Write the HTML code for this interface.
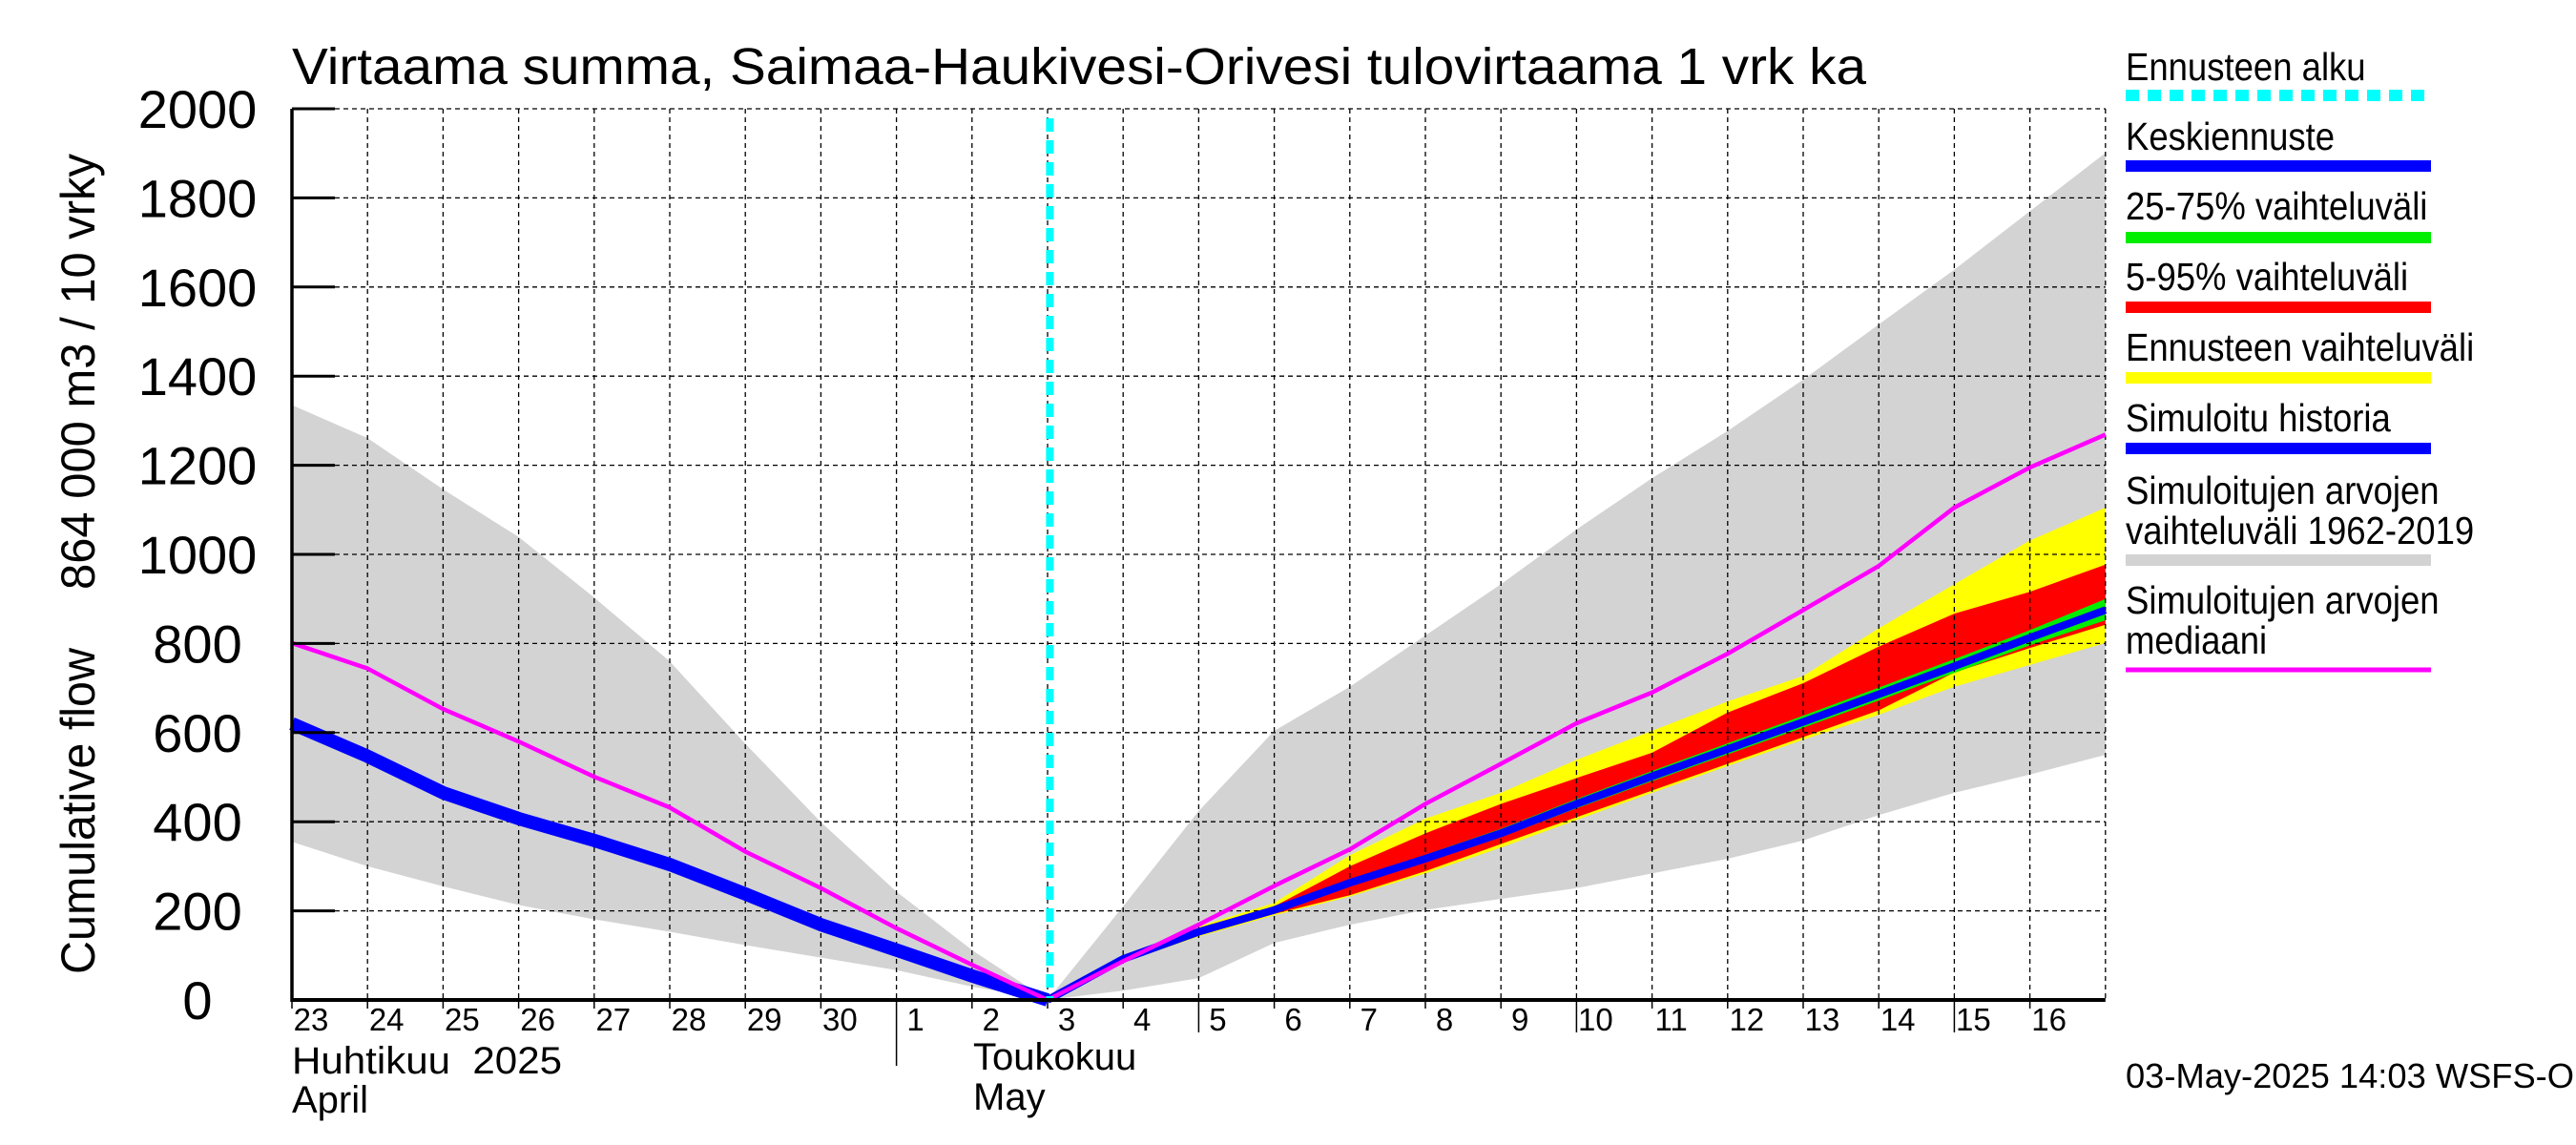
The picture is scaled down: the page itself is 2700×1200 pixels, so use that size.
<!DOCTYPE html>
<html><head><meta charset="utf-8">
<style>
html,body{margin:0;padding:0;background:#fff;}
svg{display:block;font-family:"Liberation Sans",sans-serif;}
</style></head>
<body>
<svg id="chart" xmlns="http://www.w3.org/2000/svg" width="2700" height="1200" viewBox="0 0 2700 1200">
<rect x="0" y="0" width="2700" height="1200" fill="#fff"/>
<g id="bands"></g>
<g id="grid"></g>
<g id="lines"></g>
<g id="axes"></g>
<text x="306" y="88" font-size="54" textLength="1650" lengthAdjust="spacingAndGlyphs">Virtaama summa, Saimaa-Haukivesi-Orivesi tulovirtaama 1 vrk ka</text>
<text transform="translate(99,1021) rotate(-90)" font-size="50" textLength="342" lengthAdjust="spacingAndGlyphs">Cumulative flow</text>
<text transform="translate(99,618) rotate(-90)" font-size="50" textLength="457" lengthAdjust="spacingAndGlyphs">864 000 m3 / 10 vrky</text>
<text x="306" y="1125" font-size="40" textLength="283" lengthAdjust="spacingAndGlyphs" xml:space="preserve">Huhtikuu  2025</text>
<text x="306" y="1166" font-size="40">April</text>
<text x="1020" y="1121" font-size="40">Toukokuu</text>
<text x="1020" y="1163" font-size="40">May</text>
<text x="2228" y="1140" font-size="36" textLength="470" lengthAdjust="spacingAndGlyphs">03-May-2025 14:03 WSFS-O</text>
<g id="legend"></g>
</svg>
<script>
// ---- data (day index 0 = 23 April) ----
const dayLabels = ["23","24","25","26","27","28","29","30","1","2","3","4","5","6","7","8","9","10","11","12","13","14","15","16"];
const yTicks = [0,200,400,600,800,1000,1200,1400,1600,1800,2000];
const histMax = [1335,1261,1146,1039,903,760,575,399,243,112,0,210,424,604,703,818,933,1056,1171,1277,1392,1516,1639,1770,1901];
const histMin = [355,300,255,213,181,153,123,95,67,30,0,21,49,128,169,202,227,251,284,317,358,415,465,506,550];
const histMedian = [801,744,653,580,501,432,333,251,161,79,0,87,169,256,338,440,530,621,690,777,875,974,1105,1195,1269];
const simHistory = [620,547,465,407,358,304,238,169,112,54,0];
const fcDays = [10,11,12,13,14,15,16,17,18,19,20,21,22,23,24];
const fcMedian = [0,92,153,202,263,317,374,440,502,563,624,686,749,813,875];
const fc25 = [0,88,148,197,256,309,365,430,491,551,611,672,734,796,852];
const fc75 = [0,96,158,208,270,326,384,451,514,576,638,701,765,830,900];
const fc5 = [0,86,145,193,235,289,350,410,470,530,590,650,735,790,842];
const fc95 = [0,95,160,210,300,374,440,498,555,645,711,793,867,916,977];
const fcMin = [0,84,142,190,232,284,342,404,465,525,584,640,703,752,801];
const fcMax = [0,98,165,218,325,407,465,539,604,670,727,834,933,1031,1105];
const forecastStartDay = 10.03;

const NS="http://www.w3.org/2000/svg";
const X0=306, DX=79.2, Y0=1048, YTOP=114;
function xs(d){return X0+d*DX;}
function ys(v){return Y0-(v/2000)*(Y0-YTOP);}
function el(tag,attrs,parent){const e=document.createElementNS(NS,tag);for(const k in attrs)e.setAttribute(k,attrs[k]);parent.appendChild(e);return e;}
const bands=document.getElementById('bands'),grid=document.getElementById('grid'),lines=document.getElementById('lines'),axes=document.getElementById('axes'),legend=document.getElementById('legend');

function bandPath(days,lo,hi){
  let p='';
  days.forEach((d,i)=>{p+=(i?'L':'M')+xs(d)+','+ys(hi[i]);});
  for(let i=days.length-1;i>=0;i--)p+='L'+xs(days[i])+','+ys(lo[i]);
  return p+'Z';
}
function linePath(days,vals){return days.map((d,i)=>(i?'L':'M')+xs(d)+','+ys(vals[i])).join('');}
const allDays=histMax.map((_,i)=>i);
const histDays=simHistory.map((_,i)=>i);

let b=el('path',{d:bandPath(allDays,histMin,histMax),fill:'#d3d3d3'},bands);


b=el('path',{d:bandPath(fcDays,fcMin,fcMax),fill:'#ffff00'},bands);


b=el('path',{d:bandPath(fcDays,fc5,fc95),fill:'#ff0000'},bands);


b=el('path',{d:bandPath(fcDays,fc25,fc75),fill:'#00ee00'},bands);



// grid
yTicks.forEach(v=>{
  if(v===0)return;
  const g=el('line',{x1:X0,x2:xs(24),y1:ys(v),y2:ys(v),stroke:'#000','stroke-width':1.3,'stroke-dasharray':'5,4'},grid);
  
  
});
for(let d=1;d<=24;d++){
  const g=el('line',{x1:xs(d),x2:xs(d),y1:YTOP,y2:Y0,stroke:'#000','stroke-width':1.3,'stroke-dasharray':'5,4'},grid);
  
  
}

// lines
let l=el('path',{d:linePath(histDays,simHistory),fill:'none',stroke:'#0000ff','stroke-width':14,'stroke-linejoin':'round'},lines);


l=el('path',{d:linePath(fcDays,fcMedian),fill:'none',stroke:'#0000ff','stroke-width':8,'stroke-linejoin':'round'},lines);


l=el('path',{d:linePath(allDays,histMedian),fill:'none',stroke:'#ff00ff','stroke-width':4.5,'stroke-linejoin':'round'},lines);


l=el('line',{x1:xs(forecastStartDay),x2:xs(forecastStartDay),y1:YTOP+10,y2:Y0,stroke:'#00ffff','stroke-width':8,'stroke-dasharray':'14,9'},lines);



// axes
let a=el('line',{x1:X0,x2:X0,y1:YTOP,y2:Y0+2,stroke:'#000','stroke-width':3.5},axes);


a=el('line',{x1:X0,x2:xs(24),y1:Y0,y2:Y0,stroke:'#000','stroke-width':4},axes);


yTicks.forEach(v=>{
  const t=el('line',{x1:X0,x2:X0+45,y1:ys(v),y2:ys(v),stroke:'#000','stroke-width':3},axes);
  
  
  const tx=el('text',{x:207,y:ys(v)+20,'font-size':56,'text-anchor':'middle'},axes);
  tx.textContent=v;
  
  
});
dayLabels.forEach((lab,d)=>{
  const long = d===8 ? 1117 : ((d===12||d===17||d===22)?1082:1057);
  const t=el('line',{x1:xs(d),x2:xs(d),y1:Y0,y2:long,stroke:'#000','stroke-width':1.5},axes);
  
  
  const tx=el('text',{x:xs(d)+20,y:1080,'font-size':33,'text-anchor':'middle'},axes);
  tx.textContent=lab;
  
  
});

// legend
const LX=2228, LW=320;
const legendItems=[
  {t:['Ennusteen alku'],ty:[84],ly:100,c:'#00ffff',dash:true},
  {t:['Keskiennuste'],ty:[157],ly:174,c:'#0000ff'},
  {t:['25-75% vaihteluväli'],ty:[230],ly:249,c:'#00ee00'},
  {t:['5-95% vaihteluväli'],ty:[304],ly:322,c:'#ff0000'},
  {t:['Ennusteen vaihteluväli'],ty:[378],ly:396,c:'#ffff00'},
  {t:['Simuloitu historia'],ty:[452],ly:470,c:'#0000ff'},
  {t:['Simuloitujen arvojen','vaihteluväli 1962-2019'],ty:[528,570],ly:587,c:'#d3d3d3'},
  {t:['Simuloitujen arvojen','mediaani'],ty:[643,685],ly:702,c:'#ff00ff',thin:true}
];
legendItems.forEach(it=>{
  it.t.forEach((s,i)=>{
    const tx=el('text',{x:LX,y:it.ty[i],'font-size':41},legend);
    tx.textContent=s;
    
    
    const w=tx.getComputedTextLength();
    if(w>0){tx.setAttribute('textLength',(w*0.89).toFixed(1));tx.setAttribute('lengthAdjust','spacingAndGlyphs');}
  });
  const attrs={x1:LX,x2:LX+LW,y1:it.ly,y2:it.ly,stroke:it.c,'stroke-width':it.thin?5:12};
  if(it.dash)attrs['stroke-dasharray']='14,9';
  const ln=el('line',attrs,legend);
  
  
});
</script>
</body></html>
